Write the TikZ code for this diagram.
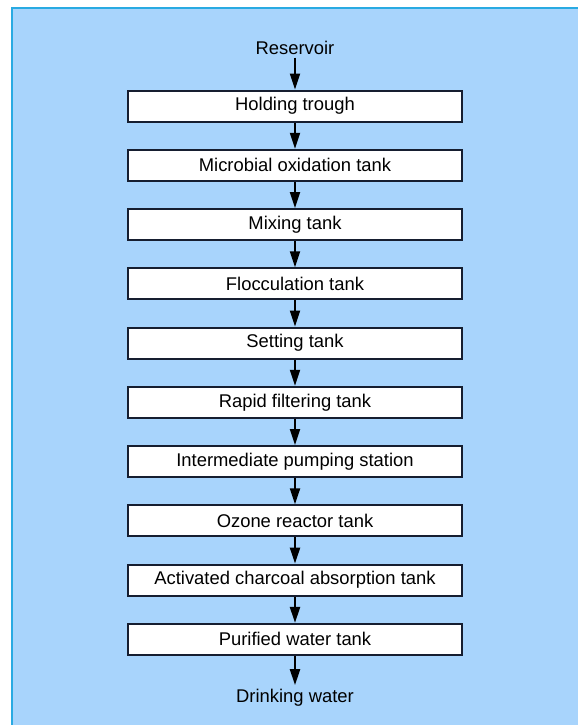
\documentclass[tikz,border=0pt]{standalone}
\usepackage{fontspec}
\setmainfont{Liberation Sans}
\usepackage{tikz}
\usetikzlibrary{arrows.meta,positioning}
\definecolor{panelblue}{RGB}{168,212,252}
\definecolor{panelline}{RGB}{41,170,226}
\definecolor{boxline}{RGB}{22,30,48}

\begin{document}
\begin{tikzpicture}[
    x=0.75pt, y=-0.75pt,
    node distance=19.7pt,
    tank/.style={rectangle, draw=boxline, fill=white, line width=1.5pt, minimum width=250.5pt, minimum height=23.25pt, inner sep=0pt, font=\fontsize{13.8}{16}\selectfont},
    label/.style={inner sep=2pt, font=\fontsize{13.8}{16}\selectfont},
    flow/.style={-{Triangle[length=12pt,width=7.5pt]}, line width=1.5pt, draw=black}
]
    \useasboundingbox (0,0) rectangle (578,725);
    % panel
    \fill[panelblue] (12,8) rectangle (578,725);
    \draw[panelline, line width=1.6pt] (12,725) -- (12,8) -- (578,8);

    \node[label] (res) at (295,48) {Reservoir};
    \node[tank] (hold) at (295,106) {Holding trough};
    \node[tank, below=of hold] (micro) {Microbial oxidation tank};
    \node[tank, below=of micro] (mix) {Mixing tank};
    \node[tank, below=of mix] (floc) {Flocculation tank};
    \node[tank, below=of floc] (settle) {Setting tank};
    \node[tank, below=of settle] (rapid) {Rapid filtering tank};
    \node[tank, below=of rapid] (pump) {Intermediate pumping station};
    \node[tank, below=of pump] (ozone) {Ozone reactor tank};
    \node[tank, below=of ozone] (charcoal) {Activated charcoal absorption tank};
    \node[tank, below=of charcoal] (pure) {Purified water tank};
    \node[label] (drink) at (295,698) {Drinking water};

    \draw[flow] (res) -- (hold);
    \draw[flow] (hold) -- (micro);
    \draw[flow] (micro) -- (mix);
    \draw[flow] (mix) -- (floc);
    \draw[flow] (floc) -- (settle);
    \draw[flow] (settle) -- (rapid);
    \draw[flow] (rapid) -- (pump);
    \draw[flow] (pump) -- (ozone);
    \draw[flow] (ozone) -- (charcoal);
    \draw[flow] (charcoal) -- (pure);
    \draw[flow, shorten >=1pt] (pure) -- (drink);
\end{tikzpicture}
\end{document}
